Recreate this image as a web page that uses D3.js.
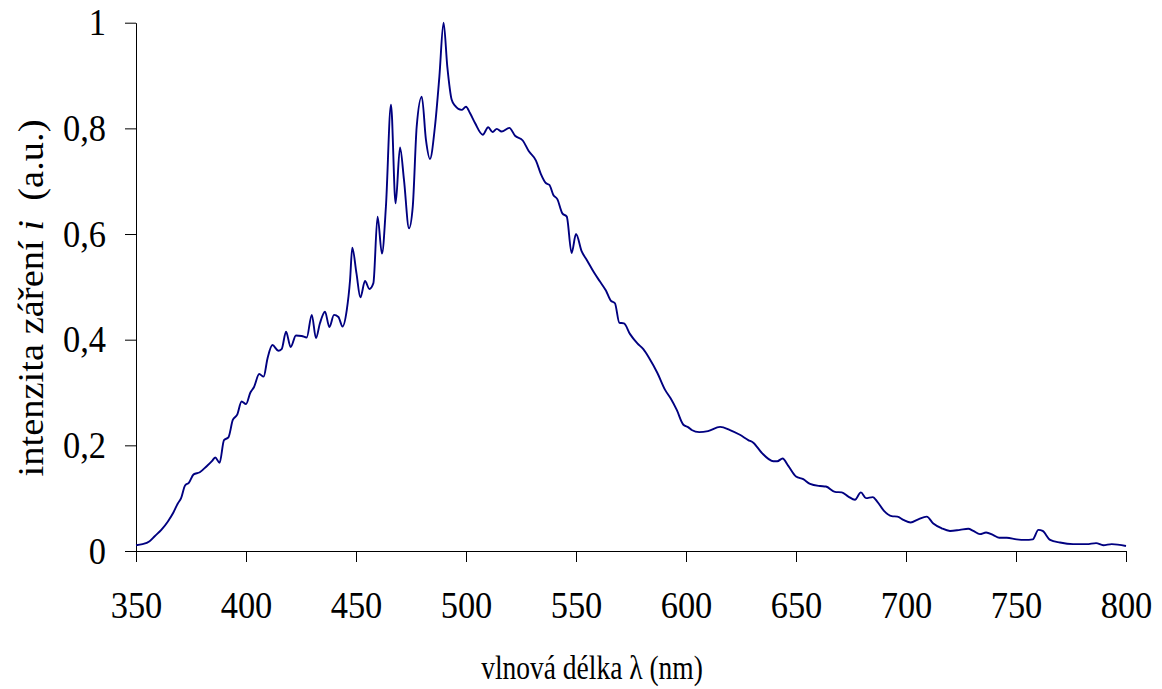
<!DOCTYPE html>
<html>
<head>
<meta charset="utf-8">
<script src="https://cdn.jsdelivr.net/npm/d3@7"></script>
<style>
  html, body { margin: 0; padding: 0; background: #fff; }
  svg { display: block; }
  text { font-family: "Liberation Serif", "Times New Roman", serif; fill: #000; }
</style>
</head>
<body>
<svg id="chart" width="1162" height="689"></svg>
<script>
// ---- data ----
const wavelengths = [
  350, 353, 356, 358.5, 361.5, 364.5, 367, 369, 370.5, 372.3,
  374, 376.2, 379, 382, 384.5, 386, 388, 390, 392, 394,
  396, 398, 400, 402, 403.6, 406, 408, 409.8, 412, 414.7,
  416.2, 418.2, 420.3, 422.7, 425.3, 427.6, 429.9, 431.8, 433.6, 435.9,
  437.9, 440, 442, 443.9, 445.8, 447.3, 448.3, 450.2, 452, 454.1,
  456.1, 457.9, 459.8, 461.8, 463.6, 465.9, 468, 470, 471.8, 474.1,
  475.8, 477.6, 479.9, 481.8, 483.6, 485.9, 487.9, 489.8, 491.5, 493.5,
  495, 498, 500, 501.8, 504.1, 507.6, 510.1, 512.1, 514, 516.2,
  519.7, 522.3, 525.8, 528.5, 531.8, 534, 536.4, 537.9, 539.7, 541.5,
  543.8, 545.8, 548, 550, 552.6, 554.9, 558.2, 560.9, 563.6, 565.8,
  567.7, 569.7, 571.8, 574.5, 577.9, 580.6, 583.3, 587, 590.5, 593,
  595.8, 598.8, 601.1, 602.6, 606, 610, 615.5, 620, 624.5, 628.3,
  630.6, 634.4, 639.7, 641.5, 643.9, 646.5, 650, 653.3, 656.4, 660.9,
  663.6, 667.7, 670.8, 673.8, 676.8, 679.5, 681.8, 684.9, 687, 690,
  693.5, 696.1, 698.8, 702.1, 705.6, 709.4, 712.4, 716.2, 720, 724.5,
  728.3, 730.6, 733.6, 736.4, 739.7, 742.4, 745.8, 750.3, 754.1, 757.6,
  760.2, 762.1, 765.5, 770, 776, 782.1, 786.4, 789.7, 793.5, 800
];
const intensities = [
  0.011, 0.013, 0.018, 0.028, 0.040, 0.056, 0.073, 0.090, 0.100, 0.124,
  0.129, 0.145, 0.149, 0.160, 0.170, 0.177, 0.167, 0.210, 0.215, 0.248,
  0.258, 0.283, 0.278, 0.300, 0.310, 0.335, 0.330, 0.365, 0.390, 0.379,
  0.382, 0.415, 0.386, 0.408, 0.407, 0.404, 0.447, 0.403, 0.431, 0.453,
  0.424, 0.447, 0.443, 0.425, 0.456, 0.513, 0.574, 0.526, 0.480, 0.511,
  0.496, 0.507, 0.633, 0.563, 0.652, 0.845, 0.658, 0.764, 0.703, 0.611,
  0.652, 0.804, 0.860, 0.778, 0.742, 0.804, 0.898, 1.000, 0.917, 0.854,
  0.843, 0.835, 0.841, 0.829, 0.810, 0.788, 0.802, 0.793, 0.799, 0.794,
  0.801, 0.786, 0.777, 0.757, 0.739, 0.714, 0.696, 0.693, 0.674, 0.666,
  0.639, 0.633, 0.564, 0.600, 0.567, 0.551, 0.527, 0.510, 0.493, 0.474,
  0.469, 0.432, 0.431, 0.411, 0.393, 0.382, 0.365, 0.337, 0.305, 0.289,
  0.267, 0.239, 0.234, 0.229, 0.225, 0.227, 0.235, 0.229, 0.220, 0.210,
  0.205, 0.186, 0.170, 0.170, 0.175, 0.161, 0.141, 0.136, 0.127, 0.123,
  0.122, 0.112, 0.111, 0.103, 0.097, 0.111, 0.100, 0.102, 0.093, 0.076,
  0.066, 0.065, 0.059, 0.054, 0.060, 0.065, 0.052, 0.043, 0.038, 0.040,
  0.042, 0.038, 0.032, 0.035, 0.030, 0.025, 0.025, 0.022, 0.021, 0.022,
  0.040, 0.038, 0.021, 0.016, 0.013, 0.013, 0.015, 0.011, 0.013, 0.0095
];
const xTickValues = [350, 400, 450, 500, 550, 600, 650, 700, 750, 800];
const yTickValues = [0, 0.2, 0.4, 0.6, 0.8, 1];
const yTickLabels = ["0", "0,2", "0,4", "0,6", "0,8", "1"];
const xTitle = "vlnová délka λ (nm)";

// ---- layout ----
const svg = d3.select("#chart");
const plotLeft = 136, plotRight = 1126, plotTop = 22.7, plotBottom = 551;
const sy = 1.12;

const x = d3.scaleLinear().domain([350, 800]).range([plotLeft, plotRight]);
const y = d3.scaleLinear().domain([0, 1]).range([plotBottom, plotTop]);

// x axis
const gx = svg.append("g").attr("transform", `translate(0,${plotBottom})`)
  .call(d3.axisBottom(x).tickValues(xTickValues).tickFormat(d3.format("d"))
    .tickSize(11).tickSizeOuter(0));
gx.selectAll("text")
  .attr("y", null).attr("dy", null)
  .attr("transform", `translate(0,67) scale(1,${sy})`)
  .style("font-size", "34.5px")
  .style("font-family", "'Liberation Serif', serif");

// y axis
const gy = svg.append("g").attr("transform", `translate(${plotLeft},0)`)
  .call(d3.axisLeft(y).tickValues(yTickValues).tickFormat((d, i) => yTickLabels[i])
    .tickSize(11).tickSizeOuter(0));
gy.selectAll("text")
  .attr("x", null).attr("dy", null)
  .attr("text-anchor", "end")
  .attr("transform", `translate(-30,12) scale(1,${sy})`)
  .style("font-size", "34.5px")
  .style("font-family", "'Liberation Serif', serif");

svg.selectAll(".domain, .tick line").attr("stroke", "#000").attr("stroke-width", 1);

// line
const pts = wavelengths.map((w, i) => [w, intensities[i]]);
const line = d3.line().x(d => x(d[0])).y(d => y(d[1])).curve(d3.curveMonotoneX);
svg.append("path")
  .datum(pts)
  .attr("d", line)
  .attr("fill", "none")
  .attr("stroke", "#000080")
  .attr("stroke-width", 1.9)
  .attr("stroke-linejoin", "round");

// x title
svg.append("text")
  .attr("text-anchor", "middle")
  .attr("transform", `translate(592,679) scale(1,1.2)`)
  .style("font-size", "27.5px")
  .text(xTitle);

// y title
const yt = svg.append("text")
  .attr("text-anchor", "middle")
  .attr("transform", `translate(43,298) rotate(-90) scale(1.1,1)`)
  .style("font-size", "35px");
yt.append("tspan").text("intenzita záření ");
yt.append("tspan").style("font-style", "italic").text("i");
yt.append("tspan").text("  (a.u.)").attr("xml:space", "preserve");
</script>
</body>
</html>
